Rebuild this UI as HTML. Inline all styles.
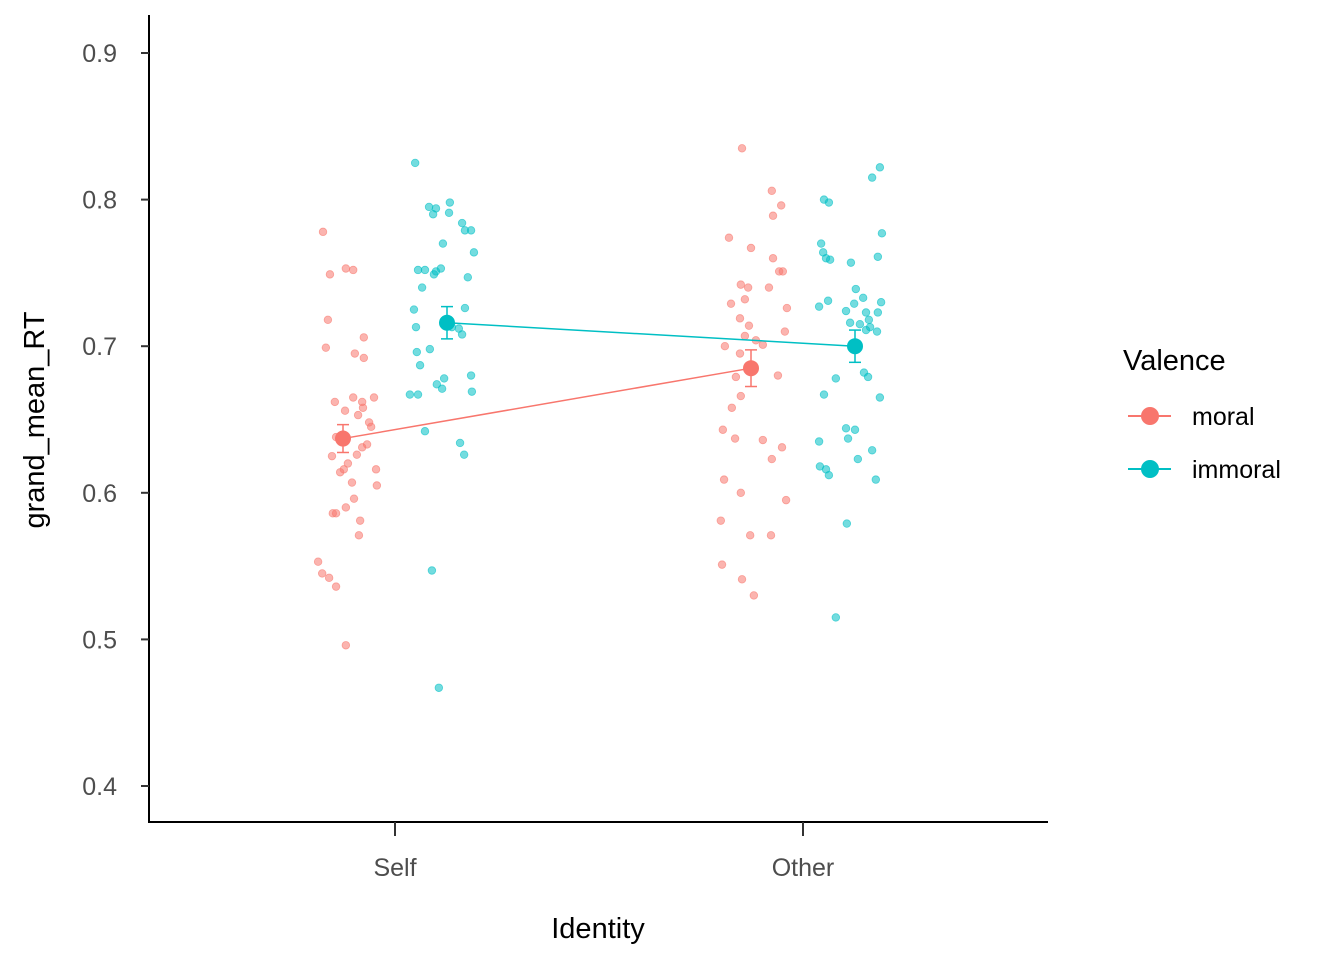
<!DOCTYPE html>
<html><head><meta charset="utf-8"><style>
html,body{margin:0;padding:0;background:#fff;width:1344px;height:960px;overflow:hidden}
svg text{font-family:"Liberation Sans",Arial,sans-serif}
</style></head><body>
<svg id="chart" width="1344" height="960" xmlns="http://www.w3.org/2000/svg"></svg>
<script>
const categories = ["Self","Other"];
const groups = ["moral","immoral"];
const colors = {moral:"#F8766D", immoral:"#00BFC4"};
const yTicks = [0.4,0.5,0.6,0.7,0.8,0.9];
const meansMoral = [0.637, 0.685];
const meansImmoral = [0.716, 0.700];
const errMoral = [0.0095, 0.0125];
const errImmoral = [0.011, 0.011];

const selfMoralY = [.778,.749,.753,.752,.718,.699,.706,.695,.692,.665,.665,.662,.662,.656,.658,.653,.648,.645,.638,.638,.631,.633,.625,.626,.620,.614,.616,.616,.607,.605,.596,.590,.586,.586,.581,.571,.553,.545,.542,.536,.496];
const selfMoralJ = [-.049,-.032,.007,.025,-.037,-.042,.051,.029,.051,.076,.025,-.02,.047,.005,.049,.037,.064,.069,-.017,-.005,.047,.059,-.027,.034,.012,-.007,.002,.081,.022,.083,.027,.007,-.025,-.017,.042,.039,-.061,-.051,-.034,-.017,.007];
const selfImmoralY = [.825,.795,.794,.790,.798,.791,.784,.779,.779,.770,.764,.752,.752,.751,.753,.749,.747,.740,.725,.713,.717,.713,.712,.726,.708,.698,.696,.687,.680,.678,.674,.671,.669,.667,.667,.642,.634,.626,.547,.467];
const selfImmoralJ = [-.078,-.044,-.027,-.034,.007,.005,.037,.044,.059,-.010,.066,-.071,-.054,-.027,-.015,-.032,.051,-.061,-.081,-.076,-.005,.012,.029,.044,.037,-.042,-.074,-.066,.059,-.007,-.025,-.012,.061,-.091,-.071,-.054,.032,.042,-.037,-.020];
const otherMoralY = [.835,.806,.796,.789,.774,.767,.760,.751,.751,.742,.740,.740,.729,.732,.726,.719,.714,.710,.707,.700,.701,.695,.704,.680,.679,.666,.658,.643,.637,.636,.631,.623,.609,.600,.595,.581,.571,.571,.551,.541,.530];
const otherMoralJ = [-.022,.051,.074,.054,-.054,0,.054,.069,.078,-.025,-.007,.044,-.049,-.015,.088,-.027,-.005,.083,-.015,-.064,.029,-.027,.012,.066,-.037,-.025,-.047,-.069,-.039,.029,.076,.051,-.066,-.025,.086,-.074,-.002,.049,-.071,-.022,.007];
const otherImmoralY = [.822,.815,.800,.798,.777,.770,.764,.760,.759,.757,.761,.730,.733,.729,.724,.739,.727,.731,.716,.715,.713,.710,.711,.718,.723,.723,.665,.682,.679,.678,.667,.635,.643,.644,.637,.629,.623,.618,.616,.612,.609,.579,.515];
const otherImmoralJ = [.061,.042,-.076,-.064,.066,-.083,-.078,-.071,-.061,-.010,.056,.064,.020,-.002,-.022,.002,-.088,-.066,-.012,.012,.037,.054,.027,.034,.056,.027,.061,.022,.032,-.047,-.076,-.088,0,-.022,-.017,.042,.007,-.086,-.071,-.064,.051,-.020,-.047];

const NS="http://www.w3.org/2000/svg";
const svg=document.getElementById('chart');
const y=v=>786-(v-0.4)*1466;
const catX=i=>395+i*408;
const xs=(i,g,j)=>catX(i)+(g===0?-52:52)+j*408;
function el(tag,attrs,parent){const e=document.createElementNS(NS,tag);for(const k in attrs)e.setAttribute(k,attrs[k]);(parent||svg).appendChild(e);return e;}

const pts=[[selfMoralY,selfMoralJ,0,0],[selfImmoralY,selfImmoralJ,0,1],[otherMoralY,otherMoralJ,1,0],[otherImmoralY,otherImmoralJ,1,1]];
pts.forEach(([ys,js,ci,gi])=>{
  const n=Math.min(ys.length,js.length);
  for(let k=0;k<n;k++){
    const c=el('circle',{cx:xs(ci,gi,js[k]),cy:y(ys[k]),r:3.8,fill:colors[groups[gi]],'fill-opacity':0.55,stroke:colors[groups[gi]],'stroke-opacity':0.6,'stroke-width':0.8});
    
    
  }
});
[[meansMoral,errMoral,0],[meansImmoral,errImmoral,1]].forEach(([m,e,gi])=>{
  const col=colors[groups[gi]];
  const ln=el('line',{x1:xs(0,gi,0),y1:y(m[0]),x2:xs(1,gi,0),y2:y(m[1]),stroke:col,'stroke-width':1.5});
  
  
  for(let i=0;i<2;i++){
    const cx=xs(i,gi,0);
    const g=el('g',{stroke:col,'stroke-width':1.5,fill:'none'});
    
    
    el('line',{x1:cx,x2:cx,y1:y(m[i]+e[i]),y2:y(m[i]-e[i])},g);
    el('line',{x1:cx-6,x2:cx+6,y1:y(m[i]+e[i]),y2:y(m[i]+e[i])},g);
    el('line',{x1:cx-6,x2:cx+6,y1:y(m[i]-e[i]),y2:y(m[i]-e[i])},g);
    const c=el('circle',{cx:cx,cy:y(m[i]),r:8,fill:col});
    
    
  }
});
const ya=el('line',{x1:149,y1:15,x2:149,y2:823,stroke:'#000','stroke-width':2});

const xa=el('line',{x1:148,y1:822,x2:1048,y2:822,stroke:'#000','stroke-width':2});

yTicks.forEach(t=>{
  const tk=el('line',{x1:141,x2:149,y1:y(t),y2:y(t),stroke:'#333','stroke-width':2});
  
  const tx=el('text',{x:117,y:y(t)+9,'text-anchor':'end','font-size':25,fill:'#4d4d4d'});
  tx.textContent=t.toFixed(1);
  
});
categories.forEach((c,i)=>{
  const tk=el('line',{x1:catX(i),x2:catX(i),y1:822,y2:836,stroke:'#333','stroke-width':2});
  
  const tx=el('text',{x:catX(i),y:876,'text-anchor':'middle','font-size':25,fill:'#4d4d4d'});
  tx.textContent=c;
  
});
const xt=el('text',{x:598,y:938,'text-anchor':'middle','font-size':29,fill:'#000'});
xt.textContent='Identity';
const yt=el('text',{x:0,y:0,'text-anchor':'middle','font-size':29,fill:'#000',transform:'translate(44,420) rotate(-90)'});
yt.textContent='grand_mean_RT';
const lg=el('g',{});

const lt=el('text',{x:1123,y:370,'font-size':29,fill:'#000'},lg);
lt.textContent='Valence';
groups.forEach((g,i)=>{
  const cy=416+i*53;
  const e=el('g',{},lg);
  
  el('line',{x1:1128,x2:1171,y1:cy,y2:cy,stroke:colors[g],'stroke-width':2},e);
  el('circle',{cx:1150,cy:cy,r:9,fill:colors[g]},e);
  const t=el('text',{x:1192,y:cy+9,'font-size':25,fill:'#000'},e);
  t.textContent=g;
});
</script>
</body></html>
